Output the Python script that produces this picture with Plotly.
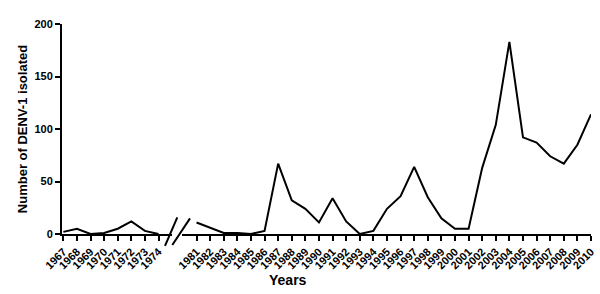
import plotly.graph_objects as go

years_a = [1967, 1968, 1969, 1970, 1971, 1972, 1973, 1974]
values_a = [2, 5, 0, 1, 5, 12, 3, 0]
years_b = list(range(1981, 2011))
values_b = [11, 6, 1, 1, 0, 3, 67, 32, 24, 11, 34, 12, 0, 3, 24, 36, 64, 35, 15, 5, 5,
            63, 104, 183, 92, 87, 74, 67, 85, 114]
y_ticks = [0, 50, 100, 150, 200]

FONT = "Liberation Sans, Arial, sans-serif"
L, R, T, B = 62, 591, 23.5, 234
W = R - L
H = B - T

def px(x):
    return (x - L) / W

def py(y):
    return (B - y) / H

fig = go.Figure()
fig.add_trace(go.Scatter(x=years_a, y=values_a, mode="lines",
                         line=dict(color="black", width=2), xaxis="x", yaxis="y",
                         showlegend=False, cliponaxis=False))
fig.add_trace(go.Scatter(x=years_b, y=values_b, mode="lines",
                         line=dict(color="black", width=2), xaxis="x2", yaxis="y",
                         showlegend=False, cliponaxis=False))

axis_common = dict(showline=True, linecolor="black", linewidth=2, ticks="outside",
                   ticklen=5, tickwidth=2, tickcolor="black", showgrid=False,
                   zeroline=False, tickangle=-45, automargin=False,
                   tickfont=dict(family=FONT, size=11, color="black", weight="bold"))

fig.update_layout(
    width=600, height=294,
    margin=dict(l=L, r=600 - R, t=T, b=294 - B),
    paper_bgcolor="white", plot_bgcolor="white",
    xaxis=dict(domain=[0, px(171.7)], range=[1966.9, 1974.97],
               tickvals=years_a, ticktext=[str(y) for y in years_a], anchor="y",
               **axis_common),
    xaxis2=dict(domain=[px(182), 1], range=[1979.93, 2010.0],
                tickvals=years_b, ticktext=[str(y) for y in years_b], anchor="y",
                **axis_common),
    yaxis=dict(range=[0, 200], tickvals=y_ticks, showline=True, linecolor="black",
               linewidth=2, ticks="outside", ticklen=5, tickwidth=2, tickcolor="black",
               showgrid=False, zeroline=False, automargin=False,
               tickfont=dict(family=FONT, size=11, color="black", weight="bold"),
               title=dict(text="Number of DENV-1 isolated", standoff=4,
                          font=dict(family=FONT, size=13, color="black", weight="bold"))),
)

fig.add_annotation(text="Years", xref="paper", yref="paper", x=px(288), y=py(280),
                   xanchor="center", yanchor="middle", showarrow=False,
                   font=dict(family=FONT, size=14, color="black", weight="bold"))

for (x0, y0, x1, y1) in [(165, 246, 177.3, 217.3), (172.3, 245, 190, 218.3)]:
    fig.add_shape(type="line", xref="paper", yref="paper",
                  x0=px(x0), y0=py(y0), x1=px(x1), y1=py(y1),
                  line=dict(color="black", width=2))

fig.write_html("out.html", config={"displayModeBar": False},
               post_script="document.body.style.margin='0';document.body.style.overflow='hidden';")
